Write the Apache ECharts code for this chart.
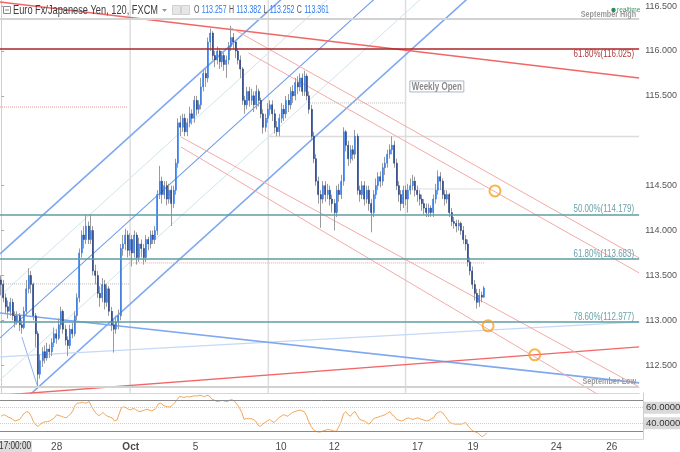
<!DOCTYPE html>
<html><head><meta charset="utf-8">
<script src="https://cdn.jsdelivr.net/npm/echarts@6.0.0/dist/echarts.min.js"></script>
<style>html,body{margin:0;padding:0;background:#fff}#c{width:680px;height:452px}</style>
</head><body><div id="c"></div>
<script>
// ---- DATA ----
// [open, close, low, high] per 120-min candle
const candles = [
[113.45,113.40,113.28,113.50],[113.40,113.25,113.20,113.45],[113.25,113.15,113.08,113.30],[113.15,113.10,113.02,113.22],[113.10,113.20,113.05,113.25],
[113.20,113.05,113.00,113.24],[113.05,112.98,112.92,113.10],[112.98,113.05,112.95,113.10],[113.05,112.95,112.88,113.08],[112.95,112.92,112.85,113.00],
[112.92,113.10,112.90,113.15],[113.10,113.35,113.05,113.45],[113.35,113.50,113.30,113.58],[113.50,113.40,113.30,113.55],[113.40,113.05,113.00,113.42],
[113.05,112.85,112.70,113.08],[112.85,112.40,112.26,112.88],[112.40,112.55,112.35,112.62],[112.55,112.65,112.48,112.70],[112.65,112.58,112.52,112.72],
[112.58,112.68,112.55,112.75],[112.68,112.65,112.58,112.73],[112.65,112.75,112.60,112.80],[112.75,112.85,112.70,112.92],[112.85,112.80,112.74,112.90],
[112.80,112.95,112.78,113.02],[112.95,113.10,112.90,113.15],[113.10,112.90,112.85,113.12],[112.90,112.78,112.72,112.95],[112.78,112.72,112.60,112.82],
[112.72,112.90,112.68,112.95],[112.90,112.85,112.80,112.97],[112.85,113.05,112.82,113.10],[113.05,113.25,113.00,113.30],[113.25,113.75,113.20,113.80],
[113.75,113.95,113.70,114.00],[113.95,113.90,113.80,114.05],[113.90,114.05,113.85,114.18],[114.05,113.90,113.85,114.10],[113.90,114.00,113.85,114.18],
[114.00,113.55,113.50,114.05],[113.55,113.50,113.40,113.62],[113.50,113.30,113.25,113.55],[113.30,113.25,113.15,113.38],[113.25,113.40,113.20,113.47],
[113.40,113.20,113.12,113.45],[113.20,113.35,113.15,113.40],[113.35,113.10,113.05,113.38],[113.10,112.95,112.88,113.15],[112.95,112.90,112.64,113.00],
[112.90,112.98,112.85,113.05],[112.98,113.05,112.90,113.12],[113.05,113.80,113.00,113.85],[113.80,113.85,113.72,113.95],[113.85,113.95,113.78,114.02],
[113.95,113.78,113.70,114.00],[113.78,113.90,113.72,113.97],[113.90,113.75,113.60,113.95],[113.75,113.95,113.70,114.00],[113.95,113.70,113.62,113.98],
[113.70,113.85,113.65,113.92],[113.85,113.80,113.70,113.90],[113.80,113.70,113.62,113.85],[113.70,113.90,113.65,113.95],[113.90,113.85,113.78,113.93],
[113.85,113.95,113.80,114.00],[113.95,113.90,113.85,114.00],[113.90,114.00,113.85,114.05],[114.00,114.40,113.95,114.45],[114.40,114.55,114.35,114.72],
[114.55,114.40,114.30,114.60],[114.40,114.50,114.35,114.55],[114.50,114.35,114.28,114.55],[114.35,114.45,114.30,114.52],[114.45,114.30,114.05,114.50],
[114.30,114.45,114.25,114.50],[114.45,114.75,114.40,114.80],[114.75,115.20,114.70,115.25],[115.20,115.15,115.05,115.28],[115.15,115.25,115.10,115.30],
[115.25,115.10,115.05,115.30],[115.10,115.20,115.05,115.25],[115.20,115.30,115.15,115.38],[115.30,115.25,115.18,115.35],[115.25,115.45,115.20,115.50],
[115.45,115.35,115.28,115.50],[115.35,115.40,115.30,115.45],[115.40,115.60,115.35,115.70],[115.60,115.75,115.55,115.80],[115.75,115.70,115.60,115.80],
[115.70,116.10,115.65,116.15],[116.10,116.20,116.00,116.25],[116.20,115.95,115.90,116.22],[115.95,115.90,115.82,116.00],[115.90,116.00,115.85,116.05],
[116.00,115.88,115.80,116.03],[115.88,115.95,115.82,116.00],[115.95,115.85,115.78,115.98],[115.85,115.90,115.70,115.95],[115.90,116.05,115.85,116.10],
[116.05,116.15,116.00,116.28],[116.15,116.10,116.02,116.20],[116.10,116.00,115.92,116.12],[116.00,115.90,115.85,116.03],[115.90,115.80,115.70,115.95],
[115.80,115.45,115.40,115.82],[115.45,115.40,115.30,115.50],[115.40,115.55,115.35,115.60],[115.55,115.45,115.38,115.60],[115.45,115.50,115.40,115.58],
[115.50,115.40,115.32,115.55],[115.40,115.55,115.35,115.62],[115.55,115.45,115.38,115.58],[115.45,115.30,115.25,115.48],[115.30,115.15,115.08,115.35],
[115.15,115.25,115.10,115.30],[115.25,115.35,115.20,115.42],[115.35,115.40,115.28,115.45],[115.40,115.30,115.22,115.45],[115.30,115.15,115.08,115.35],
[115.15,115.10,115.05,115.22],[115.10,115.25,115.05,115.30],[115.25,115.35,115.20,115.42],[115.35,115.30,115.22,115.40],[115.30,115.45,115.25,115.50],
[115.45,115.40,115.32,115.52],[115.40,115.55,115.35,115.60],[115.55,115.50,115.42,115.62],[115.50,115.65,115.45,115.70],[115.65,115.60,115.52,115.72],
[115.60,115.70,115.55,115.75],[115.70,115.55,115.50,115.75],[115.55,115.72,115.50,115.78],[115.72,115.50,115.45,115.75],[115.50,115.35,115.30,115.55],
[115.35,115.05,115.00,115.40],[115.05,114.80,114.75,115.10],[114.80,114.55,114.50,114.85],[114.55,114.40,114.30,114.60],[114.40,114.35,114.03,114.45],
[114.35,114.50,114.30,114.55],[114.50,114.40,114.32,114.55],[114.40,114.45,114.35,114.52],[114.45,114.35,114.28,114.50],[114.35,114.30,114.20,114.40],
[114.30,114.20,114.00,114.35],[114.20,114.45,114.15,114.50],[114.45,114.40,114.32,114.52],[114.40,114.55,114.35,114.62],[114.55,115.10,114.50,115.15],
[115.10,114.95,114.88,115.12],[114.95,114.80,114.72,115.00],[114.80,114.90,114.75,114.95],[114.90,114.85,114.78,114.95],[114.85,115.05,114.80,115.12],
[115.05,114.45,114.40,115.08],[114.45,114.40,114.32,114.50],[114.40,114.50,114.35,114.55],[114.50,114.35,114.28,114.55],[114.35,114.45,114.30,114.50],
[114.45,114.30,114.22,114.50],[114.30,114.20,113.98,114.35],[114.20,114.40,114.15,114.45],[114.40,114.50,114.35,114.58],[114.50,114.60,114.45,114.65],
[114.60,114.55,114.48,114.66],[114.55,114.70,114.50,114.75],[114.70,114.75,114.62,114.82],[114.75,114.85,114.70,114.90],[114.85,114.90,114.80,114.96],
[114.90,114.95,114.85,115.05],[114.95,114.75,114.70,115.00],[114.75,114.50,114.45,114.80],[114.50,114.40,114.32,114.55],[114.40,114.30,114.22,114.45],
[114.30,114.45,114.25,114.50],[114.45,114.35,114.28,114.50],[114.35,114.45,114.20,114.52],[114.45,114.50,114.40,114.58],[114.50,114.55,114.45,114.62],
[114.55,114.45,114.38,114.60],[114.45,114.40,114.32,114.50],[114.40,114.35,114.28,114.45],[114.35,114.30,114.22,114.40],[114.30,114.25,114.18,114.35],
[114.25,114.20,114.15,114.30],[114.20,114.25,114.15,114.30],[114.25,114.20,114.15,114.28],[114.20,114.35,114.15,114.40],[114.35,114.45,114.30,114.52],
[114.45,114.60,114.40,114.67],[114.60,114.55,114.45,114.65],[114.55,114.40,114.35,114.58],[114.40,114.35,114.28,114.45],[114.35,114.40,114.30,114.45],
[114.40,114.20,114.15,114.42],[114.20,114.10,114.05,114.25],[114.10,114.08,114.02,114.15],[114.08,114.05,113.98,114.12],[114.05,114.08,114.00,114.12],
[114.08,114.00,113.95,114.10],[114.00,113.90,113.85,114.05],[113.90,113.85,113.78,113.95],[113.85,113.65,113.60,113.90],[113.65,113.55,113.50,113.70],
[113.55,113.40,113.35,113.60],[113.40,113.30,113.22,113.45],[113.30,113.20,113.13,113.35],[113.20,113.28,113.15,113.35],[113.28,113.257,113.20,113.32],
[113.257,113.361,113.252,113.382]
];
const rsi = [
49,51,50,48,47,45,43,44,45,49,53,55,54,49,42,38,36,39,41,42,
42,43,45,47,51,50,49,48,47,49,52,56,63,66,66,67,66,66,68,62,
57,53,50,51,54,51,49,48,47,43,44,52,60,61,60,58,57,59,58,56,
55,56,57,58,57,56,57,60,65,66,63,62,61,61,63,66,70,74,74,73,
74,74,74,75,75,75,76,75,74,76,75,71,70,68,68,69,69,68,68,70,
70,68,64,60,54,45,46,46,46,45,43,38,36,39,41,43,45,43,41,44,
47,49,51,50,49,52,54,55,56,57,56,55,50,42,36,32,30,29,29,30,
31,32,32,31,30,30,36,42,52,55,51,49,53,55,50,45,44,43,41,39,
42,46,47,48,49,50,51,53,55,51,49,45,44,43,44,46,47,46,45,46,
47,46,45,44,43,44,46,47,52,54,55,53,49,45,41,40,39,39,39,39,
40,41,36,33,30,29,28,25,23,25,28
];
const slotCount = 278;                 // candle slots incl. empty future area
const tickIdx  = [24, 56, 84, 121, 144, 180, 204, 240, 264];
const tickText = ['28', 'Oct', '5', '10', '12', '17', '19', '24', '26'];
const priceTicks = [112.5, 113.0, 113.5, 114.0, 114.5, 115.5, 116.0, 116.5];
const fibValues = [116.025, 114.179, 113.683, 112.977];
const fibTexts  = ['61.80%(116.025)', '50.00%(114.179)', '61.80%(113.683)', '78.60%(112.977)'];
const septHigh = 116.365, septLow = 112.260, weeklyOpenLevel = 115.048, lastPrice = 113.361;
const ohlcLast = ['113.257', '113.382', '113.252', '113.361'];
const weekOpenIdx = [56.1, 116.2, 175.9];
// drawn trendlines: [candleIndex, price] endpoints
const redTrend     = [[-0.5,116.546],[277.5,115.699]];
const redSupport   = [[-0.5,112.164],[277.5,112.704]];
const lightBlue    = [[-0.5,112.592],[277.5,112.982]];
const blueDesc     = [[-0.5,113.082],[277.5,112.303]];
const forkUpper    = [[-0.5,113.739],[277.5,120.184]];
const forkMedian   = [[-0.5,112.804],[277.5,119.248]];
const forkLower    = [[-0.5,111.869],[277.5,118.313]];
const forkInnerUp  = [[-0.5,113.272],[277.5,119.716]];
const forkInnerLow = [[-0.5,112.336],[277.5,118.781]];
const forkHandle   = [[9.0,112.815],[15.9,112.258]];
const chanLowA     = [[78.2,115.042],[277.5,112.258]];
const chanLowB     = [[78.2,114.931],[277.5,111.902]];
const chanUpA      = [[107.6,115.978],[277.5,113.528]];
const chanUpB      = [[100.2,116.256],[277.5,113.695]];
const dotPink1 = [[-0.5,115.376],[54.8,115.376]];
const dotPink2 = [[55.7,113.639],[210.1,113.639]];
const dotGrey1 = [[133.5,115.421],[175.5,115.421]];
const dotGrey2 = [[181.1,114.463],[210.1,114.463]];
const dotGrey3 = [[-0.5,113.405],[55.7,113.405]];
const targetCircles = [[214.8,114.441],[211.8,112.938],[232.1,112.615]];
const weeklyOpenTag = [189.5, 115.605];
const rsiLevels = [70, 30], rsiGuides = [60, 40];

// ---- CHART ----
const FONT = "'Liberation Sans',Arial,sans-serif";
const categories = Array.from({length: slotCount}, (_, i) => String(i));
const tickMap = {};
tickIdx.forEach((k, j) => { tickMap[k] = tickText[j]; });
const bodies = candles.map(c => [c[0], c[1], Math.min(c[0], c[1]), Math.max(c[0], c[1])]);

function seg(pts, color, width, type, z) {
  return { type: 'line', xAxisIndex: 1, yAxisIndex: 0, data: pts, symbol: 'none', silent: true, clip: true,
    lineStyle: { color: color, width: width, type: type || 'solid' }, z: z || 2, animation: false };
}
const PINK = '#f4aaa8', RED = '#f26666', BLUE = '#7ea8ef', TEAL = '#5e9ca3';
const boxLabel = (v, bg, fg) => ({ yAxis: v, lineStyle: { opacity: 0 },
  label: { show: true, position: 'end', distance: 1, formatter: v.toFixed(3), backgroundColor: bg, color: fg, padding: [2, 2, 1, 2], fontSize: 9.5, fontFamily: FONT } });

const levelSeries = seg(redTrend, RED, 1.4);
levelSeries.markLine = {
  silent: true, symbol: ['none', 'none'], animation: false,
  data: [
    { yAxis: septHigh, lineStyle: { color: '#d2d2d2', width: 2, type: 'solid' }, label: { show: false } },
    { yAxis: septLow, lineStyle: { color: '#d2d2d2', width: 2, type: 'solid' }, label: { show: false } },
    { yAxis: fibValues[0], lineStyle: { color: '#a8262a', width: 1.6, type: 'solid' }, label: { show: false } },
    { yAxis: fibValues[1], lineStyle: { color: TEAL, width: 1.6, type: 'solid' }, label: { show: false } },
    { yAxis: fibValues[2], lineStyle: { color: TEAL, width: 1.6, type: 'solid' }, label: { show: false } },
    { yAxis: fibValues[3], lineStyle: { color: TEAL, width: 1.6, type: 'solid' }, label: { show: false } },
    boxLabel(septHigh, '#d9d9d9', '#333'),
    boxLabel(weeklyOpenLevel, '#d9d9d9', '#333'),
    boxLabel(lastPrice, '#2a7af2', '#fff'),
    boxLabel(septLow, '#d9d9d9', '#333')
  ]
};

const series = [
  seg(forkInnerUp, '#cfe4ea', 1), seg(forkInnerLow, '#cfe4ea', 1),
  seg(forkUpper, BLUE, 1.6), seg(forkMedian, '#6f9ee8', 1.1), seg(forkLower, BLUE, 1.6), seg(forkHandle, '#8fb3ef', 1),
  seg(lightBlue, '#c5d8f6', 1.3), seg(blueDesc, BLUE, 1.6),
  levelSeries, seg(redSupport, RED, 1.4),
  seg(chanLowA, PINK, 1), seg(chanLowB, PINK, 1), seg(chanUpA, PINK, 1), seg(chanUpB, PINK, 1),
  seg(dotPink1, '#e9a0a0', 1, 'dotted'), seg(dotPink2, '#e9a0a0', 1, 'dotted'),
  seg(dotGrey1, '#bbbbbb', 1, 'dotted'), seg(dotGrey2, '#bbbbbb', 1, 'dotted'), seg(dotGrey3, '#bbbbbb', 1, 'dotted'),
  seg([[weekOpenIdx[0],112.0],[weekOpenIdx[0],117.0]], '#dddddd', 1.5, 'solid', 1),
  seg([[weekOpenIdx[1],112.0],[weekOpenIdx[1],117.0]], '#dddddd', 1.5, 'solid', 1),
  seg([[weekOpenIdx[2],112.0],[weekOpenIdx[2],117.0]], '#dddddd', 1.5, 'solid', 1),
  seg([[weekOpenIdx[1],weeklyOpenLevel],[277.5,weeklyOpenLevel]], '#dcdcdc', 1.5, 'solid', 1),
  {
    type: 'candlestick', xAxisIndex: 0, yAxisIndex: 0, data: candles, barWidth: 0.6, z: 3,
    itemStyle: { color: '#9a9a9a', color0: '#9a9a9a', borderColor: '#9a9a9a', borderColor0: '#9a9a9a', borderWidth: 1 },
    silent: true, animation: false
  },
  {
    type: 'candlestick', xAxisIndex: 0, yAxisIndex: 0, data: bodies, barWidth: 1.5, z: 4,
    itemStyle: { color: '#2a7af2', color0: '#1f3d84', borderColor: '#2a7af2', borderColor0: '#1f3d84', borderWidth: 0.5 },
    silent: true, animation: false
  },
  {
    type: 'scatter', xAxisIndex: 1, yAxisIndex: 0, data: targetCircles, symbol: 'circle', symbolSize: 11, z: 6,
    itemStyle: { color: 'rgba(255,255,255,0)', borderColor: '#f5a323', borderWidth: 2 }, silent: true, animation: false
  },
  {
    type: 'line', xAxisIndex: 2, yAxisIndex: 1, data: rsi, symbol: 'none', silent: true, animation: false,
    lineStyle: { color: '#f2a65a', width: 1 }, z: 3,
    markLine: {
      silent: true, symbol: ['none', 'none'], animation: false,
      data: [
        { yAxis: rsiLevels[0], lineStyle: { color: '#8a8a8a', width: 1, type: 'solid' }, label: { show: false } },
        { yAxis: rsiLevels[1], lineStyle: { color: '#8a8a8a', width: 1, type: 'solid' }, label: { show: false } },
        { yAxis: rsiGuides[0], lineStyle: { color: '#cfcfcf', width: 1, type: 'dotted' },
          label: { show: true, position: 'end', distance: 1, formatter: rsiGuides[0].toFixed(4), backgroundColor: '#d9d9d9', color: '#333', padding: [1, 2], fontSize: 9.5, fontFamily: FONT } },
        { yAxis: rsiGuides[1], lineStyle: { color: '#cfcfcf', width: 1, type: 'dotted' },
          label: { show: true, position: 'end', distance: 1, formatter: rsiGuides[1].toFixed(4), backgroundColor: '#d9d9d9', color: '#333', padding: [1, 2], fontSize: 9.5, fontFamily: FONT } }
      ]
    }
  }
];

const chart = echarts.init(document.getElementById('c'), null, { renderer: 'canvas' });
chart.setOption({
  animation: false,
  backgroundColor: '#ffffff',
  textStyle: { fontFamily: FONT },
  grid: [
    { left: 0, right: 37, top: 0, height: 393 },
    { left: 0, right: 37, top: 393, height: 47 }
  ],
  xAxis: [
    { type: 'category', gridIndex: 0, data: categories, boundaryGap: true,
      axisLine: { show: true, lineStyle: { color: '#d6d6d6' } }, axisTick: { show: false }, axisLabel: { show: false }, splitLine: { show: false } },
    { type: 'value', gridIndex: 0, min: -0.5, max: slotCount - 0.5, show: false },
    { type: 'category', gridIndex: 1, data: categories, boundaryGap: true, position: 'bottom',
      axisLine: { show: true, lineStyle: { color: '#d6d6d6' } }, axisTick: { show: false }, splitLine: { show: false },
      axisLabel: { show: true, interval: (i) => tickMap[i] !== undefined, margin: 3, color: '#4a4a4a', fontSize: 10, fontFamily: FONT,
        formatter: (v, i) => tickMap[i] === 'Oct' ? '{b|Oct}' : (tickMap[i] || ''),
        rich: { b: { fontWeight: 'bold', color: '#4a4a4a', fontSize: 10, fontFamily: FONT } } } }
  ],
  yAxis: [
    { type: 'value', gridIndex: 0, position: 'right', min: 112.19, max: 116.568, scale: true,
      axisLine: { show: true, lineStyle: { color: '#cfcfcf' } },
      axisTick: { show: true, length: 3, lineStyle: { color: '#aaa' }, customValues: priceTicks },
      axisLabel: { show: true, customValues: priceTicks, formatter: (v) => v.toFixed(3), color: '#555', fontSize: 9, margin: 6, fontFamily: FONT },
      splitLine: { show: false } },
    { type: 'value', gridIndex: 1, position: 'right', min: 20, max: 78.75,
      axisLine: { show: true, lineStyle: { color: '#cfcfcf' } }, axisTick: { show: false }, axisLabel: { show: false }, splitLine: { show: false } }
  ],
  series: series
});

// ---- text annotations placed through the chart's own scales ----
const yPx = (p) => chart.convertToPixel({ yAxisIndex: 0 }, p);
const xPx = (i) => chart.convertToPixel({ xAxisIndex: 1 }, i);
const plotRight = xPx(slotCount - 0.5);
const txt = (x, y, text, fill, size, opts) => Object.assign({ type: 'text', x: x, y: y, z: 50,
  scaleX: (opts && opts.sx) || 0.82, silent: true,
  style: { text: text, fill: fill, fontSize: size, fontFamily: FONT, fontWeight: (opts && opts.bold) ? 'bold' : 'normal',
    align: (opts && opts.align) || 'left', verticalAlign: 'middle' } });

const fibColors = ['#b03a3a', '#6aa3aa', '#6aa3aa', '#6aa3aa'];
const fibOffsets = [5.5, -5, -5, -5];
const graphics = [];
fibValues.forEach((v, k) => graphics.push(txt(plotRight - 5, yPx(v) + fibOffsets[k], fibTexts[k], fibColors[k], 10.5, { align: 'right', sx: 0.76 })));
graphics.push(txt(plotRight - 3, yPx(septHigh) - 4, 'September High', '#9a9a9a', 9.5, { align: 'right', bold: true, sx: 0.76 }));
graphics.push(txt(plotRight - 3, yPx(septLow) - 5, 'September Low', '#9a9a9a', 9.5, { align: 'right', bold: true, sx: 0.76 }));
const woX = xPx(weeklyOpenTag[0]), woY = yPx(weeklyOpenTag[1]);
graphics.push({ type: 'rect', z: 49, silent: true, shape: { x: woX - 27, y: woY - 5.5, width: 54, height: 11 },
  style: { fill: '#fff', stroke: '#aab6c8', lineWidth: 1 } });
graphics.push(txt(woX, woY + 0.5, 'Weekly Open', '#8a8a8a', 10, { align: 'center', bold: true, sx: 0.8 }));
// header
graphics.push({ type: 'rect', silent: true, shape: { x: 3.5, y: 6.5, width: 7, height: 7 }, style: { fill: '#fff', stroke: '#888', lineWidth: 1 } });
graphics.push({ type: 'line', silent: true, shape: { x1: 5, y1: 10, x2: 9, y2: 10 }, style: { stroke: '#888', lineWidth: 1 } });
graphics.push(txt(13, 10.5, 'Euro Fx/Japanese Yen, 120, FXCM', '#3c3c3c', 12, { sx: 0.77 }));
graphics.push({ type: 'polygon', silent: true, shape: { points: [[162, 9], [167, 9], [164.5, 12]] }, style: { fill: '#999' } });
graphics.push({ type: 'rect', silent: true, shape: { x: 172.5, y: 5.5, width: 8, height: 9 }, style: { fill: '#e6e6e6', stroke: '#d0d0d0' } });
graphics.push({ type: 'rect', silent: true, shape: { x: 181.5, y: 5.5, width: 8, height: 9 }, style: { fill: '#e6e6e6', stroke: '#d0d0d0' } });
graphics.push({ type: 'text', x: 194, y: 10.5, z: 50, scaleX: 0.7, silent: true, style: {
  text: '{l|O} {v|' + ohlcLast[0] + '} {l|H} {v|' + ohlcLast[1] + '} {l|L} {v|' + ohlcLast[2] + '} {l|C} {v|' + ohlcLast[3] + '}',
  verticalAlign: 'middle',
  rich: { l: { fill: '#555', fontSize: 10, fontFamily: FONT }, v: { fill: '#2a7af2', fontSize: 10, fontFamily: FONT } } } });
graphics.push({ type: 'circle', silent: true, shape: { cx: 613.5, cy: 10, r: 2.2 }, style: { fill: '#2e8b57' } });
graphics.push(txt(617, 10, 'realtime', '#3f9a6a', 8, { sx: 0.82 }));
graphics.push({ type: 'rect', silent: true, shape: { x: 0, y: 441, width: 32, height: 11 }, style: { fill: '#dcdcdc' } });
graphics.push(txt(31, 446.5, '17:00:00', '#333', 10, { align: 'right', sx: 0.82 }));
chart.setOption({ graphic: graphics });
</script>
</body></html>
